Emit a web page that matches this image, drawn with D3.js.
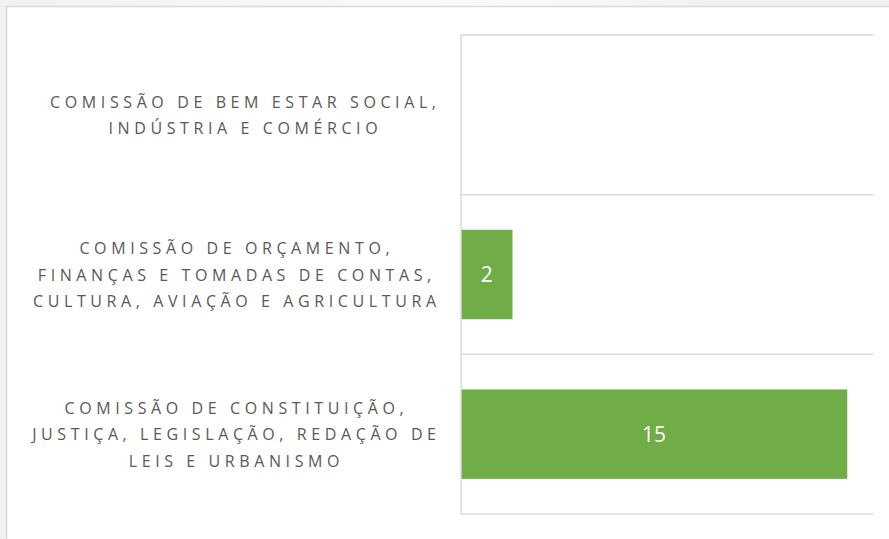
<!DOCTYPE html>
<html>
<head>
<meta charset="utf-8">
<script src="https://cdn.jsdelivr.net/npm/d3@7"></script>
<style>
  body { margin: 0; background: #f2f2f2; }
  svg { display: block; }
</style>
</head>
<body>
<svg id="vis"></svg>
<script>
// categories, top to bottom, already split into lines like the original
const categories = ["bem", "orcamento", "constituicao"];
const categoryLines = [
  ["COMISSÃO DE BEM ESTAR SOCIAL,", "INDÚSTRIA E COMÉRCIO"],
  ["COMISSÃO DE ORÇAMENTO,", "FINANÇAS E TOMADAS DE CONTAS,", "CULTURA, AVIAÇÃO E AGRICULTURA"],
  ["COMISSÃO DE CONSTITUIÇÃO,", "JUSTIÇA, LEGISLAÇÃO, REDAÇÃO DE", "LEIS E URBANISMO"]
];
const values = [0, 2, 15];
const xDomain = [0, 16];

let config = { svg: {}, plot: {} };
config.svg.width = 889;
config.svg.height = 539;
config.plot.left = 461;
config.plot.right = 873;
config.plot.top = 35;
config.plot.bottom = 514;

const svg = d3.select("svg#vis")
  .attr("width", config.svg.width)
  .attr("height", config.svg.height);

// page background + white card with a faint frame
let bg = svg.append("defs").append("linearGradient")
  .attr("id", "shine")
  .attr("x1", "0%").attr("x2", "100%");
bg.append("stop").attr("offset", "0%").attr("stop-color", "#f1f1f1");
bg.append("stop").attr("offset", "55%").attr("stop-color", "#fbfbfb");
bg.append("stop").attr("offset", "80%").attr("stop-color", "#f1f1f1");

svg.append("rect")
  .attr("width", config.svg.width)
  .attr("height", config.svg.height)
  .attr("fill", "url(#shine)");

svg.append("rect")
  .attr("x", 6.5)
  .attr("y", 6.5)
  .attr("width", config.svg.width)
  .attr("height", config.svg.height)
  .attr("fill", "#ffffff")
  .attr("stroke", "#d9d9d9")
  .attr("stroke-width", 1.5);

let scale = {};
scale.x = d3.scaleLinear()
  .domain(xDomain)
  .range([config.plot.left, config.plot.right]);

scale.row = d3.scaleBand()
  .domain(categories)
  .range([config.plot.top, config.plot.bottom])
  .padding(0);

scale.y = d3.scaleBand()
  .domain(categories)
  .range([config.plot.top, config.plot.bottom])
  .paddingInner(0.44)
  .paddingOuter(0.22);

let plot = svg.append("g").attr("id", "plot");

// horizontal gridlines at category boundaries
let bounds = categories.map(c => scale.row(c)).concat([config.plot.bottom]);
plot.selectAll("line.grid")
  .data(bounds)
  .enter()
  .append("line")
  .attr("class", "grid")
  .attr("x1", config.plot.left)
  .attr("x2", config.plot.right)
  .attr("y1", d => d)
  .attr("y2", d => d)
  .attr("stroke", "#d9d9d9")
  .attr("stroke-width", 1.5);

// bars
let data = categories.map((c, i) => ({ key: c, value: values[i], lines: categoryLines[i] }));

plot.selectAll("rect.bar")
  .data(data)
  .enter()
  .append("rect")
  .attr("class", "bar")
  .attr("x", scale.x(0))
  .attr("y", d => scale.y(d.key))
  .attr("width", d => scale.x(d.value) - scale.x(0))
  .attr("height", scale.y.bandwidth())
  .attr("fill", "#70ad47");

// value labels in the middle of the bars
plot.selectAll("text.value")
  .data(data.filter(d => d.value > 0))
  .enter()
  .append("text")
  .attr("class", "value")
  .attr("x", d => (scale.x(0) + scale.x(d.value)) / 2)
  .attr("y", d => scale.y(d.key) + scale.y.bandwidth() / 2)
  .attr("dy", "0.36em")
  .attr("text-anchor", "middle")
  .attr("fill", "#ffffff")
  .attr("font-family", "'Open Sans', sans-serif")
  .attr("font-size", "21px")
  .text(d => d.value);

// category axis line
plot.append("line")
  .attr("x1", config.plot.left)
  .attr("x2", config.plot.left)
  .attr("y1", config.plot.top)
  .attr("y2", config.plot.bottom)
  .attr("stroke", "#d9d9d9")
  .attr("stroke-width", 1.5);

// category labels: lines centred in a block that sits just left of the axis
const lineHeight = 26.5;
const spacing = 4.6;
const labelRight = config.plot.left - 25;

let labels = plot.selectAll("text.label")
  .data(data)
  .enter()
  .append("text")
  .attr("class", "label")
  .attr("text-anchor", "middle")
  .attr("fill", "#595959")
  .attr("font-family", "'Open Sans', sans-serif")
  .attr("font-size", "16px")
  .attr("letter-spacing", spacing + "px");

labels.selectAll("tspan")
  .data(d => d.lines.map((t, i) => ({ t: t, i: i, n: d.lines.length, key: d.key })))
  .enter()
  .append("tspan")
  .attr("x", 0)
  .attr("y", d => scale.row(d.key) + scale.row.bandwidth() / 2
    + (d.i - (d.n - 1) / 2) * lineHeight + 6)
  .text(d => d.t);

labels.each(function() {
  let box = this.getBBox();
  let shift = labelRight + spacing - (box.x + box.width);
  d3.select(this).attr("transform", translate(shift, 0));
});

function translate(x, y) {
  return 'translate(' + x + ',' + y + ')';
}
</script>
</body>
</html>
